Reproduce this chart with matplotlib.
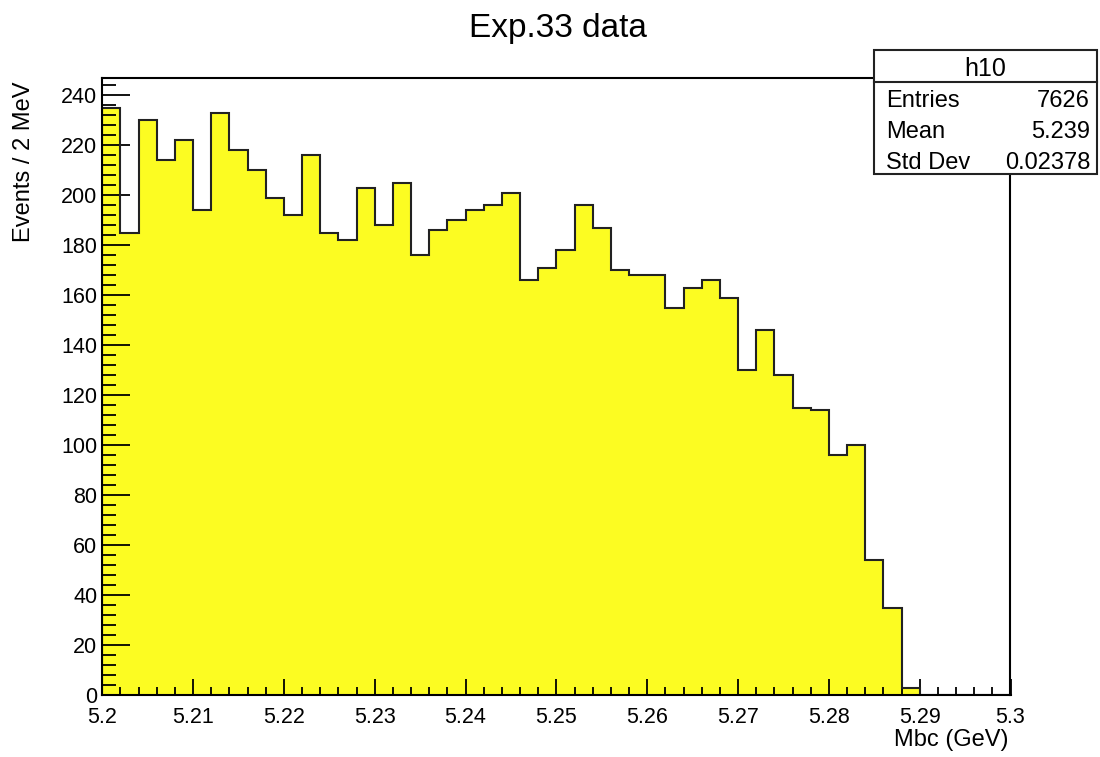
import numpy as np
import matplotlib
matplotlib.use("Agg")
import matplotlib.pyplot as plt
from matplotlib.patches import Rectangle
from matplotlib.lines import Line2D
from matplotlib.ticker import MultipleLocator, FixedLocator, FuncFormatter

plt.rcParams['font.family'] = ['Liberation Sans', 'DejaVu Sans']

# Mbc histogram, 2 MeV bins from 5.2 to 5.3 GeV
x_lo, x_hi = 5.2, 5.3
n_bins = 50
counts = [235, 185, 230, 214, 222, 194, 233, 218, 210, 199,
          192, 216, 185, 182, 203, 188, 205, 176, 186, 190,
          194, 196, 201, 166, 171, 178, 196, 187, 170, 168,
          168, 155, 163, 166, 159, 130, 146, 128, 115, 114,
          96, 100, 54, 35, 3, 0, 0, 0, 0, 0]

title = "Exp.33 data"
x_title = "Mbc (GeV)"
y_title = "Events / 2 MeV"
hist_name = "h10"
stat_names = ["Entries", "Mean", "Std Dev"]
stat_values = ["7626", "5.239", "0.02378"]

x_ticks = [5.2, 5.21, 5.22, 5.23, 5.24, 5.25, 5.26, 5.27, 5.28, 5.29, 5.3]
y_ticks = [0, 20, 40, 60, 80, 100, 120, 140, 160, 180, 200, 220, 240]

W, H = 1100, 757
fig = plt.figure(figsize=(W / 100, H / 100), dpi=100)


def fx(px):
    return px / W


def fy(py):
    return 1 - py / H


ax = fig.add_axes([fx(102.3), fy(695), fx(1010.5) - fx(102.3), fy(78.3) - fy(695)])

edges = np.linspace(x_lo, x_hi, n_bins + 1)
ax.stairs(counts, edges, fill=True, color="#fcfc22", zorder=1)
ax.stairs(counts, edges, color="#222222", linewidth=1.5, baseline=0, zorder=2)

ax.set_xlim(x_lo, x_hi)
ax.set_ylim(0, max(counts) * 1.05)

ax.xaxis.set_major_locator(FixedLocator(x_ticks))
ax.xaxis.set_minor_locator(MultipleLocator(0.002))
ax.yaxis.set_major_locator(FixedLocator(y_ticks))
ax.yaxis.set_minor_locator(MultipleLocator(4))
ax.xaxis.set_major_formatter(FuncFormatter(lambda v, p: f"{v:g}"))
ax.yaxis.set_major_formatter(FuncFormatter(lambda v, p: f"{v:g}"))

ax.tick_params(axis="x", which="major", direction="in", length=11.5, width=1.3,
               labelsize=15.5, pad=8.5, top=False)
ax.tick_params(axis="x", which="minor", direction="in", length=5.8, width=1.3, top=False)
ax.tick_params(axis="y", which="major", direction="in", length=20, width=1.3,
               labelsize=15.5, pad=3.5, right=False)
ax.tick_params(axis="y", which="minor", direction="in", length=10, width=1.3, right=False)
for sp in ax.spines.values():
    sp.set_linewidth(1.5)
    sp.set_zorder(3)

# titles
fig.text(fx(557.5), fy(37.3), title, ha="center", va="baseline", fontsize=24)
fig.text(fx(1009), fy(729), x_title, ha="right", va="top", fontsize=17)
fig.text(fx(24), fy(81.7), y_title, ha="center", va="top", rotation=90, fontsize=17)

# stats box
bx0, bx1, by0, by1, bsep = 874, 1097, 50, 173.5, 81.7
fig.add_artist(Rectangle((fx(bx0), fy(by1)), fx(bx1) - fx(bx0), fy(by0) - fy(by1),
                         transform=fig.transFigure, facecolor="white",
                         edgecolor="#222222", linewidth=1.5, zorder=5))
fig.add_artist(Line2D([fx(bx0), fx(bx1)], [fy(bsep), fy(bsep)],
                      transform=fig.transFigure, color="#222222", linewidth=1.5, zorder=6))
fig.text(fx((bx0 + bx1) / 2), fy(76.5), hist_name, ha="center", va="baseline",
         fontsize=18, zorder=7)
for i, (name, val) in enumerate(zip(stat_names, stat_values)):
    base = 106.7 + 31 * i
    fig.text(fx(886.5), fy(base), name, ha="left", va="baseline", fontsize=17, zorder=7)
    fig.text(fx(1090), fy(base), val, ha="right", va="baseline", fontsize=17, zorder=7)

fig.savefig("out.png", dpi=100)
